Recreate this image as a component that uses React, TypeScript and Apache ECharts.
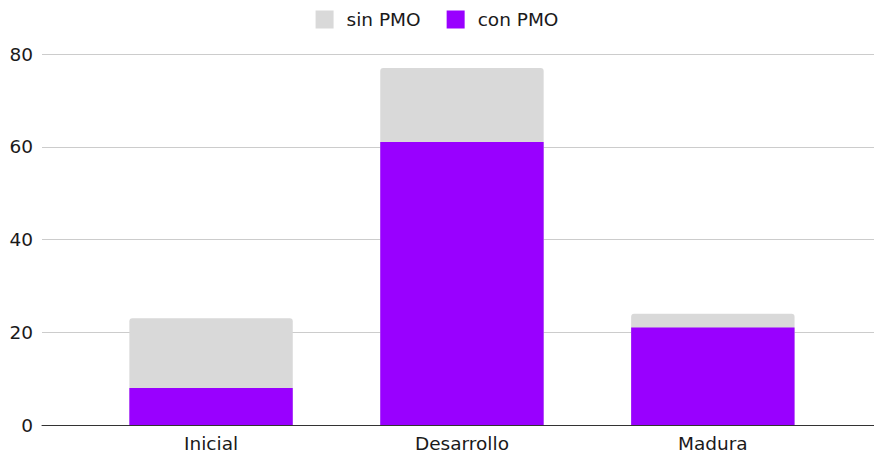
import React, { useEffect, useRef } from "react";
import * as echarts from "echarts";

const categories = ["Inicial", "Desarrollo", "Madura"];
const sinPMO = [23, 77, 24];
const conPMO = [8, 61, 21];
const yTicks = [0, 20, 40, 60, 80];

export default function App() {
  const ref = useRef<HTMLDivElement>(null);
  useEffect(() => {
    document.body.style.margin = "0";
    if (!ref.current) return;
    const chart = echarts.init(ref.current, undefined, { renderer: "svg" });
    const font = "'DejaVu Sans', Verdana, sans-serif";
    chart.setOption({
      animation: false,
      textStyle: { fontFamily: font },
      legend: {
        top: 5,
        left: "center",
        itemWidth: 18,
        itemHeight: 18,
        itemGap: 26,
        icon: "rect",
        data: ["sin PMO", "con PMO"],
        textStyle: { fontSize: 18.5, color: "#1a1a1a", fontFamily: font, padding: [0, 0, 0, 8] },
      },
      grid: [
        { left: 85.6, right: 35.7, top: 54, bottom: 29 },
        { left: 42, right: 0, top: 54, bottom: 29 },
      ],
      xAxis: [
        {
          type: "category",
          gridIndex: 0,
          data: categories,
          axisLine: { show: false },
          axisTick: { show: false },
          axisLabel: { fontSize: 18.5, color: "#1a1a1a", margin: 9, fontFamily: font },
        },
        {
          type: "value",
          gridIndex: 1,
          min: 0,
          max: 1,
          axisLine: { show: true, lineStyle: { color: "#333", width: 1 } },
          axisTick: { show: false },
          axisLabel: { show: false },
          splitLine: { show: false },
        },
      ],
      yAxis: [
        {
          type: "value",
          gridIndex: 0,
          min: yTicks[0],
          max: yTicks[yTicks.length - 1],
          interval: 20,
          axisLine: { show: false },
          axisTick: { show: false },
          axisLabel: { show: false },
          splitLine: { show: false },
        },
        {
          type: "value",
          gridIndex: 1,
          min: yTicks[0],
          max: yTicks[yTicks.length - 1],
          interval: 20,
          axisLine: { show: false },
          axisTick: { show: false },
          axisLabel: { fontSize: 18.5, color: "#1a1a1a", margin: 9, fontFamily: font },
          splitLine: { show: true, lineStyle: { color: "#cccccc", width: 1 } },
        },
      ],
      series: [
        {
          name: "sin PMO",
          type: "bar",
          xAxisIndex: 0,
          yAxisIndex: 0,
          data: sinPMO,
          barWidth: 163.4,
          barGap: "-100%",
          itemStyle: { color: "#d9d9d9", borderRadius: [3, 3, 0, 0] },
          z: 3,
        },
        {
          name: "con PMO",
          type: "bar",
          xAxisIndex: 0,
          yAxisIndex: 0,
          data: conPMO,
          barWidth: 163.4,
          barGap: "-100%",
          itemStyle: { color: "#9900ff" },
          z: 4,
        },
      ],
    });
    return () => chart.dispose();
  }, []);
  return (
    <div
      ref={ref}
      style={{ position: "absolute", left: 0, top: 0, width: 874, height: 454 }}
    />
  );
}
